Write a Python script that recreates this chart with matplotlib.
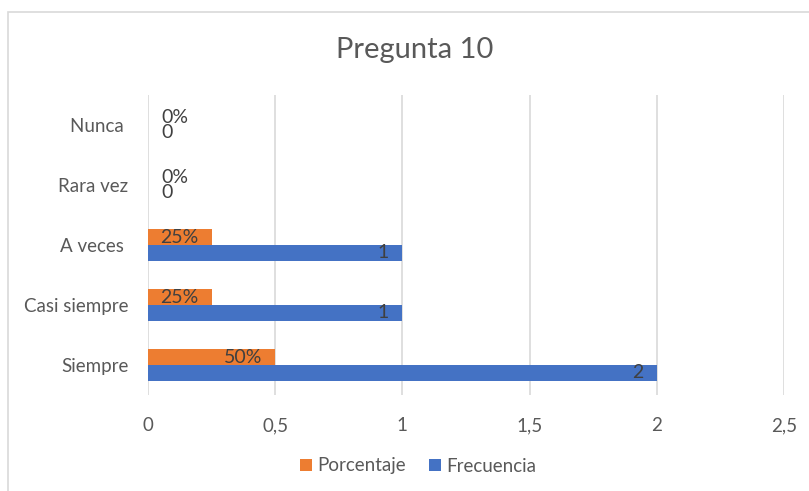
import matplotlib
matplotlib.use("Agg")
import matplotlib.pyplot as plt
from matplotlib.patches import Rectangle
from matplotlib.ticker import FixedLocator, FuncFormatter
import numpy as np

categories = ["Siempre", "Casi siempre", "A veces ", "Rara vez", "Nunca "]
frecuencia = [2, 1, 1, 0, 0]
porcentaje = [0.50, 0.25, 0.25, 0.0, 0.0]
pct_labels = ["50%", "25%", "25%", "0%", "0%"]
x_ticks = [0, 0.5, 1, 1.5, 2, 2.5]
title = "Pregunta 10"

plt.rcParams['font.family'] = ['Lato', 'DejaVu Sans']

ORANGE = "#ED7D31"
BLUE = "#4472C4"
GRID = "#D9D9D9"
TICK = "#595959"
LAB = "#404040"

fig = plt.figure(figsize=(8.09, 4.91), dpi=100)
fig.patches.append(Rectangle((8/809, -0.05), 1.2, 1 - 12/491 + 0.05, transform=fig.transFigure,
                             fill=False, edgecolor="#D9D9D9", linewidth=1.2))
ax = fig.add_axes([148/809, 1 - 395/491, (784 - 148)/809, 300/491])

y = np.arange(len(categories))
h = 0.26
ax.barh(y + h/2, porcentaje, height=h, color=ORANGE, label="Porcentaje", zorder=3)
ax.barh(y - h/2, frecuencia, height=h, color=BLUE, label="Frecuencia", zorder=3)

off = 9.5
for i in range(len(categories)):
    for val, lab, yy in ((porcentaje[i], pct_labels[i], y[i] + h/2),
                         (frecuencia[i], str(frecuencia[i]), y[i] - h/2)):
        if val == 0:
            ax.annotate(lab, (0, yy), xytext=(off, 0), textcoords="offset points",
                        ha="left", va="center", fontsize=14, color=LAB, zorder=4)
        else:
            ax.annotate(lab, (val, yy), xytext=(-off, 0), textcoords="offset points",
                        ha="right", va="center", fontsize=14, color=LAB, zorder=4)

ax.set_xlim(0, 2.5)
ax.set_ylim(-0.5, len(categories) - 0.5)
ax.xaxis.set_major_locator(FixedLocator(x_ticks))
ax.xaxis.set_major_formatter(FuncFormatter(lambda v, p: ("%g" % v).replace(".", ",")))
ax.set_yticks(y)
ax.set_yticklabels(categories)
ax.grid(axis="x", color=GRID, linewidth=1.2, zorder=0)
for s in ax.spines.values():
    s.set_visible(False)
ax.tick_params(axis="both", length=0, labelsize=13.5, labelcolor=TICK)
ax.tick_params(axis="x", pad=16)
ax.tick_params(axis="y", pad=14)

fig.text(415/809, 1 - 50/491, title, ha="center", va="center",
         fontsize=21, color=TICK)

handles, labels = ax.get_legend_handles_labels()
leg = fig.legend(handles, labels, loc="center", bbox_to_anchor=(418/809, 1 - 466/491),
                 ncol=2, frameon=False, fontsize=13.5, handlelength=0.65, handleheight=0.65,
                 handletextpad=0.3, columnspacing=1.2)
for t in leg.get_texts():
    t.set_color(TICK)

fig.savefig("out.png", dpi=100)
